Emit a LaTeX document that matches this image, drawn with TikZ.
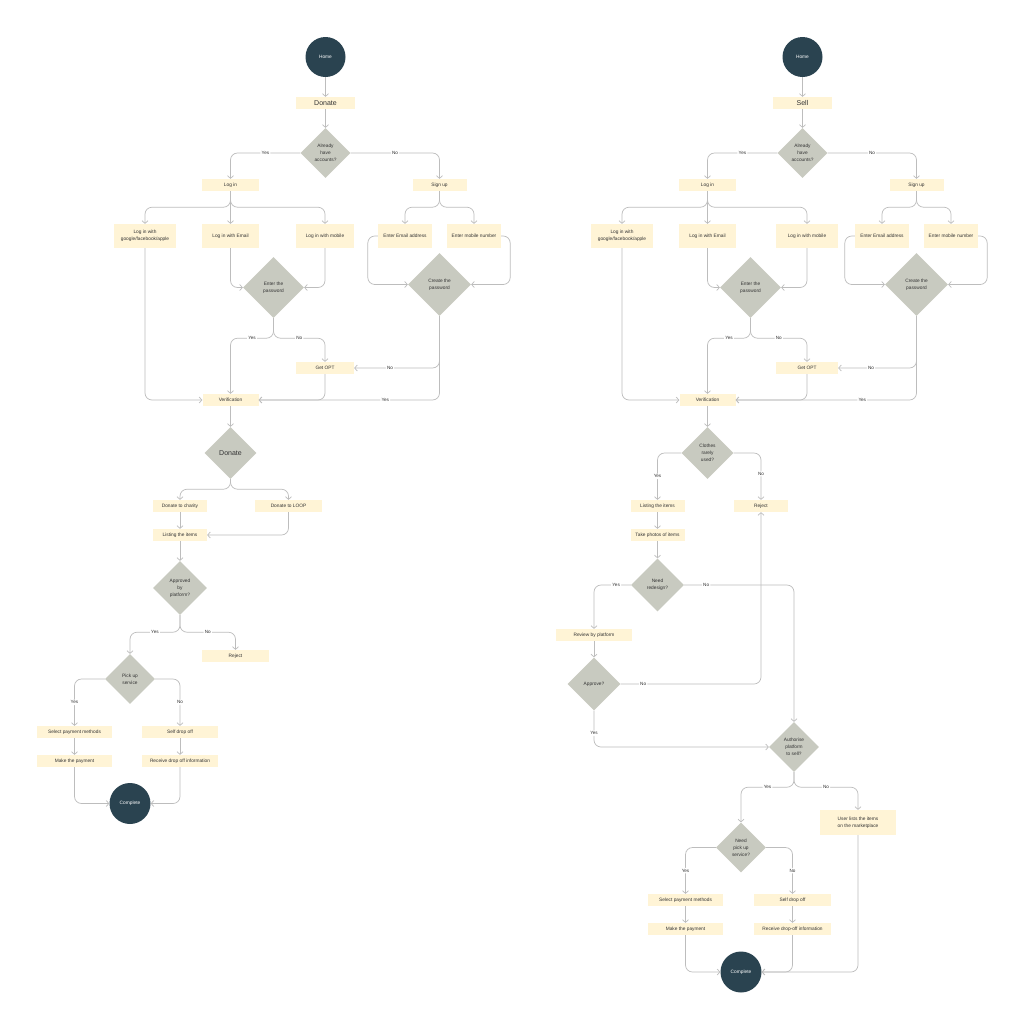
\documentclass[tikz,border=0pt]{standalone}
\usepackage{fontspec}
\setmainfont{Liberation Sans}
\usetikzlibrary{shapes.geometric,arrows.meta}
\definecolor{boxc}{HTML}{FFF4D6}
\definecolor{diac}{HTML}{C8CAC0}
\definecolor{darkc}{HTML}{2A4350}
\definecolor{linec}{HTML}{BDBDBD}
\definecolor{textc}{HTML}{333333}
\newcommand\fsmall{\fontsize{4.8}{6.8}\selectfont}
\newcommand\ftitle{\fontsize{7}{8}\selectfont}
\newcommand\flbl{\fontsize{4.6}{5.5}\selectfont}
\tikzset{
 box/.style={fill=boxc, minimum height=12, inner sep=0pt, font=\fsmall, align=center, text=textc},
 dia/.style={diamond, aspect=1, fill=diac, inner sep=0pt, font=\fsmall, align=center, text=textc},
 circ/.style={circle, fill=darkc, minimum size=40, inner sep=0pt, font=\fsmall, text=white},
 arr/.style={draw=linec, line width=0.7pt, rounded corners=7pt, -{Straight Barb[length=2.6pt,width=6pt]}},
 lbl/.style={fill=white, inner sep=1.2pt, font=\flbl, text=textc},
}
\newcommand\authflow[4]{%
 \node[circ] (#1home) at (325.5,57) {Home};
 \node[box,minimum width=59,font=\ftitle] (#1title) at (325.5,103) {#2};
 \node[dia,minimum size=50] (#1acc) at (325.5,153) {Already\\have\\accounts?};
 \node[box,minimum width=57] (#1login) at (230.5,185) {Log in};
 \node[box,minimum width=54] (#1signup) at (439.5,185) {Sign up};
 \node[box,minimum width=62,minimum height=24] (#1google) at (145,236) {Log in with\\google/facebook/apple};
 \node[box,minimum width=57,minimum height=24] (#1email) at (230.5,236) {Log in with Email};
 \node[box,minimum width=#4,minimum height=24] (#1mobile) at (#3,236) {Log in with mobile};
 \node[box,minimum width=54,minimum height=24] (#1eemail) at (405,236) {Enter Email address};
 \node[box,minimum width=54,minimum height=24] (#1emobile) at (474,236) {Enter mobile number};
 \node[dia,minimum size=61] (#1pwd) at (273.5,287.5) {Enter the\\password};
 \node[dia,minimum size=63] (#1cpwd) at (439.5,284.5) {Create the\\password};
 \node[box,minimum width=#4] (#1opt) at (#3,368) {Get OPT};
 \node[box,minimum width=56] (#1verif) at (230.5,400) {Verification};
 \draw[arr] (#1home) -- (#1title);
 \draw[arr] (#1title) -- (#1acc);
 \draw[arr] (#1acc.west) -| node[lbl,pos=0.25]{Yes} (#1login.north);
 \draw[arr] (#1acc.east) -| node[lbl,pos=0.25]{No} (#1signup.north);
 \draw[arr] (#1login.south) -- ++(0,16) -| (#1google.north);
 \draw[arr] (#1login.south) -- (#1email.north);
 \draw[arr] (#1login.south) -- ++(0,16) -| (#1mobile.north);
 \draw[arr] (#1signup.south) -- ++(0,16) -| (#1eemail.north);
 \draw[arr] (#1signup.south) -- ++(0,16) -| (#1emobile.north);
 \draw[arr] (#1email.south) |- (#1pwd.west);
 \draw[arr] (#1mobile.south) |- (#1pwd.east);
 \draw[arr] (#1eemail.west) -- ++(-10,0) |- (#1cpwd.west);
 \draw[arr] (#1emobile.east) -- ++(9,0) |- (#1cpwd.east);
 \draw[arr] (#1pwd.south) -- ++(0,20) -| node[lbl,pos=0.25]{Yes} (#1verif.north);
 \draw[arr] (#1pwd.south) -- ++(0,20) -| node[lbl,pos=0.25]{No} (#1opt.north);
 \draw[arr] (#1google.south) |- (#1verif.west);
 \draw[arr] (#1opt.south) |- (#1verif.east);
 \draw[arr] (#1cpwd.south) |- node[lbl,pos=0.79]{No} (#1opt.east);
 \draw[arr] (#1cpwd.south) |- node[lbl,pos=0.65]{Yes} (#1verif.east);
}
\begin{document}
\begin{tikzpicture}[x=1pt,y=-1pt]
\useasboundingbox (0,0) rectangle (1024,1029);
\fill[white] (0,0) rectangle (1024,1029);
% ---------- left: Donate ----------
\authflow{L}{Donate}{325}{58}
\node[dia,minimum size=52,font=\ftitle] (Ldd) at (230.5,453) {Donate};
\node[box,minimum width=54] (Lcharity) at (180,506) {Donate to charity};
\node[box,minimum width=67] (Lloop) at (288.5,506) {Donate to LOOP};
\node[box,minimum width=54] (Llist) at (180,535) {Listing the items};
\node[dia,minimum size=54] (Lappr) at (180,588) {Approved\\by\\platform?};
\node[box,minimum width=67] (Lreject) at (235.5,656) {Reject};
\node[dia,minimum size=50] (Lpick) at (130,679) {Pick up\\service};
\node[box,minimum width=75] (Lselpay) at (74.5,732) {Select payment methods};
\node[box,minimum width=75] (Lmake) at (74.5,761) {Make the payment};
\node[box,minimum width=76] (Lself) at (180,732) {Self drop off};
\node[box,minimum width=76] (Lrecv) at (180,761) {Receive drop off information};
\node[circ,minimum size=41] (Lcomplete) at (130,803.5) {Complete};
\draw[arr] (Lverif) -- (Ldd);
\draw[arr] (Ldd.south) -- ++(0,10) -| (Lcharity.north);
\draw[arr] (Ldd.south) -- ++(0,10) -| (Lloop.north);
\draw[arr] (Lcharity) -- (Llist);
\draw[arr] (Lloop.south) |- (Llist.east);
\draw[arr] (Llist) -- (Lappr);
\draw[arr] (Lappr.south) -- ++(0,17) -| node[lbl,pos=0.25]{Yes} (Lpick.north);
\draw[arr] (Lappr.south) -- ++(0,17) -| node[lbl,pos=0.25]{No} (Lreject.north);
\draw[arr] (Lpick.west) -| node[lbl,pos=0.75]{Yes} (Lselpay.north);
\draw[arr] (Lpick.east) -| node[lbl,pos=0.75]{No} (Lself.north);
\draw[arr] (Lselpay) -- (Lmake);
\draw[arr] (Lself) -- (Lrecv);
\draw[arr] (Lmake.south) |- (Lcomplete.west);
\draw[arr] (Lrecv.south) |- (Lcomplete.east);
% ---------- right: Sell ----------
\begin{scope}[xshift=477pt]
\authflow{R}{Sell}{330}{62}
\end{scope}
\node[dia,minimum size=52] (Rclothes) at (707.5,453) {Clothes\\rarely\\used?};
\node[box,minimum width=54] (Rlist) at (657.5,506) {Listing the items};
\node[box,minimum width=54] (Rreject) at (761,506) {Reject};
\node[box,minimum width=54] (Rphotos) at (657.5,535) {Take photos of items};
\node[dia,minimum size=53] (Rredesign) at (657.5,585) {Need\\redesign?};
\node[box,minimum width=76] (Rreview) at (594,635) {Review by platform};
\node[dia,minimum size=53] (Rapprove) at (594,684) {Approve?};
\node[dia,minimum size=50] (Rauth) at (794,747) {Authorise\\platform\\to sell?};
\node[box,minimum width=76,minimum height=25] (Ruser) at (858,822.5) {User lists the items\\on the marketplace};
\node[dia,minimum size=50] (Rpick) at (741,847.5) {Need\\pick up\\service?};
\node[box,minimum width=75] (Rselpay) at (685.5,900) {Select payment methods};
\node[box,minimum width=75] (Rmake) at (685.5,929) {Make the payment};
\node[box,minimum width=77] (Rself) at (792.5,900) {Self drop off};
\node[box,minimum width=77] (Rrecv) at (792.5,929) {Receive drop-off information};
\node[circ,minimum size=41] (Rcomplete) at (741,972) {Complete};
\draw[arr] (Rverif) -- (Rclothes);
\draw[arr] (Rclothes.west) -| node[lbl,pos=0.75]{Yes} (Rlist.north);
\draw[arr] (Rclothes.east) -| node[lbl,pos=0.72]{No} (Rreject.north);
\draw[arr] (Rlist) -- (Rphotos);
\draw[arr] (Rphotos) -- (Rredesign);
\draw[arr] (Rredesign.west) -| node[lbl,pos=0.2]{Yes} (Rreview.north);
\draw[arr] (Rredesign.east) -| node[lbl,pos=0.1]{No} (Rauth.north);
\draw[arr] (Rreview) -- (Rapprove);
\draw[arr] (Rapprove.east) -| node[lbl,pos=0.08]{No} (Rreject.south);
\draw[arr] (Rapprove.south) |- node[lbl,pos=0.31]{Yes} (Rauth.west);
\draw[arr] (Rauth.south) -- ++(0,15) -| node[lbl,pos=0.25]{Yes} (Rpick.north);
\draw[arr] (Rauth.south) -- ++(0,15) -| node[lbl,pos=0.25]{No} (Ruser.north);
\draw[arr] (Rpick.west) -| node[lbl,pos=0.75]{Yes} (Rselpay.north);
\draw[arr] (Rpick.east) -| node[lbl,pos=0.75]{No} (Rself.north);
\draw[arr] (Rselpay) -- (Rmake);
\draw[arr] (Rself) -- (Rrecv);
\draw[arr] (Rmake.south) |- (Rcomplete.west);
\draw[arr] (Rrecv.south) |- (Rcomplete.east);
\draw[arr] (Ruser.south) |- (Rcomplete.east);
\end{tikzpicture}
\end{document}
